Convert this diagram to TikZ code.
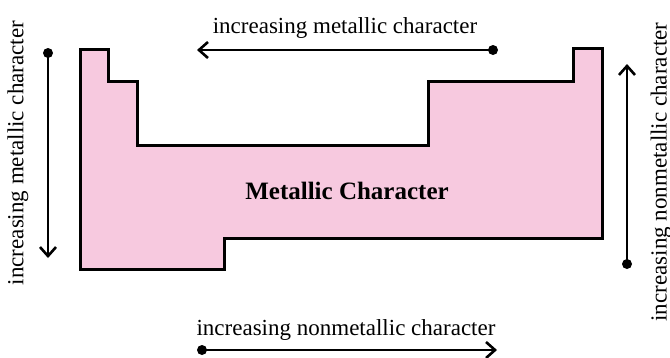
\documentclass[tikz,border=0pt]{standalone}
\usepackage{fontspec}
\setmainfont{Liberation Serif}
\usetikzlibrary{arrows.meta}
\definecolor{pinkfill}{HTML}{F7C9DF}
\tikzset{
  shapeline/.style={draw=black, line width=3pt, fill=pinkfill, line join=miter},
  trend/.style={line width=2.6pt, -{Straight Barb[length=9pt,width=16pt,line width=2.6pt]}},
  dot/.style={circle, fill=black, inner sep=0pt, minimum size=10pt},
  lbl/.style={font=\fontsize{23}{26}\selectfont, inner sep=0pt},
  title/.style={font=\fontsize{25}{28}\selectfont\bfseries, inner sep=0pt}
}
\begin{document}
\begin{tikzpicture}[x=1pt,y=-1pt]
\useasboundingbox (0,0) rectangle (670,357);
\draw[shapeline] (80,49) -- (108,49) -- (108,81) -- (137,81) -- (137,145) -- (428,145) -- (428,81) -- (573,81) -- (573,48) -- (602,48) -- (602,238) -- (224,238) -- (224,269) -- (80,269) -- cycle;
\node[title, anchor=base] (mc) at (347,199) {Metallic Character};
% top arrow
\node[dot] (d1) at (493,50) {};
\coordinate (e1) at (197,50);
\draw[trend] (d1.center) -- (e1);
\node[lbl, anchor=base] (t1) at (345,33) {increasing metallic character};
% bottom arrow
\node[dot] (d2) at (202,350) {};
\coordinate (e2) at (497,350);
\draw[trend] (d2.center) -- (e2);
\node[lbl, anchor=base] (t2) at (346,335) {increasing nonmetallic character};
% left arrow
\node[dot] (d3) at (48,53) {};
\coordinate (e3) at (48,258);
\draw[trend] (d3.center) -- (e3);
\node[lbl, rotate=90] (t3) at (18,153) {increasing metallic character};
% right arrow
\node[dot] (d4) at (627,264) {};
\coordinate (e4) at (627,64);
\draw[trend] (d4.center) -- (e4);
\node[lbl, rotate=90] (t4) at (661,172) {increasing nonmetallic character};
\end{tikzpicture}
\end{document}
